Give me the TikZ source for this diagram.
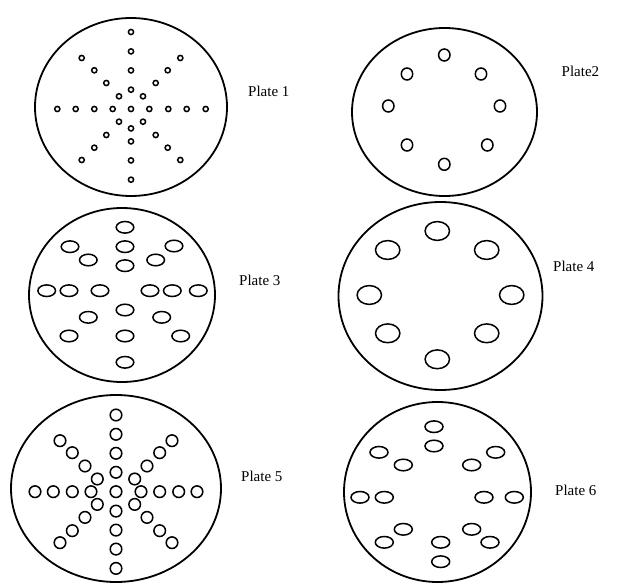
\documentclass[tikz,border=0pt]{standalone}
\usepackage{fontspec}
\setmainfont{Liberation Serif}
\begin{document}
\begin{tikzpicture}[x=1pt,y=-1pt]
\tikzstyle{plate}=[draw,line width=1.8pt]
\tikzstyle{hole}=[draw,line width=1.5pt]
\tikzstyle{platelabel}=[font=\fontsize{15}{18}\selectfont,inner sep=0pt,anchor=base west]
\useasboundingbox (0,0) rectangle (619,583);
% Plate 1: small holes in a star
\draw[plate] (131,107) ellipse [x radius=96,y radius=89];
\begin{scope}[shift={(131,109)}]
\foreach \dx in {-73.7,-55.3,-36.7,-18.3,0,18.3,37.3,55.7,74.7}
  \draw[hole] (\dx,0) circle [radius=2.6];
\foreach \dy in {-77,-57.6,-38.6,-19.3,19.4,32.4,51.4,70.7}
  \draw[hole] (0,\dy) circle [radius=2.6];
\foreach \dx/\dy in {12/12.7,24.7/26,36.7/38.7,49.3/51}{
  \draw[hole] (\dx,\dy) circle [radius=2.6];
  \draw[hole] (-\dx,\dy) circle [radius=2.6];
  \draw[hole] (\dx,-\dy) circle [radius=2.6];
  \draw[hole] (-\dx,-\dy) circle [radius=2.6];
}
\end{scope}
\node[platelabel] (P_1) at (248,97) {Plate 1};
% Plate 2: eight holes in a ring
\draw[plate] (444.5,112) ellipse [x radius=92.5,y radius=84];
\foreach \x/\y in {444.3/55,407/74,481/74,388.3/106,500/106,407/145,487.3/145,444.3/164.3}
  \draw[hole] (\x,\y) ellipse [x radius=5.7,y radius=6];
\node[platelabel] (P_2) at (561.5,77) {Plate2};
% Plate 3: oval holes
\draw[plate] (122,295) ellipse [x radius=93,y radius=87];
\foreach \x/\y in {125/227.3,125/246.7,125/265.7,70/246.7,88.3/260,174/246,155.7/260,
  46.7/290.7,69/290.7,100/290.7,150/290.7,172.3/290.7,198.3/290.7,
  125/310,88.3/317.3,161.7/317.3,69/336,125/336,180.7/336,125/362.3}
  \draw[hole] (\x,\y) ellipse [x radius=8.8,y radius=5.8];
\node[platelabel] (P_3) at (239,285) {Plate 3};
% Plate 4: eight large holes
\draw[plate] (440.5,296) ellipse [x radius=102,y radius=94];
\foreach \x/\y in {437.3/231,387.7/250,486.7/250,369.3/295,511.7/295,387.7/333.3,486.7/333.3,437.3/359.3}
  \draw[hole] (\x,\y) ellipse [x radius=12.2,y radius=9.4];
\node[platelabel] (P_4) at (553,271) {Plate 4};
% Plate 5: round holes in a star
\draw[plate] (116,488.5) ellipse [x radius=105,y radius=93.5];
\begin{scope}[shift={(116,491.7)}]
\draw[hole] (0,0) circle [radius=5.8];
\foreach \dx in {25,43.7,62.7,81}{
  \draw[hole] (\dx,0) circle [radius=5.8];
  \draw[hole] (-\dx,0) circle [radius=5.8];
}
\foreach \dy in {19.4,38.4,57.4,76.7}{
  \draw[hole] (0,\dy) circle [radius=5.8];
  \draw[hole] (0,-\dy) circle [radius=5.8];
}
\foreach \dx/\dy in {18.7/12.7,31/25.7,43.7/39,56/51}{
  \draw[hole] (\dx,\dy) circle [radius=5.8];
  \draw[hole] (-\dx,\dy) circle [radius=5.8];
  \draw[hole] (\dx,-\dy) circle [radius=5.8];
  \draw[hole] (-\dx,-\dy) circle [radius=5.8];
}
\end{scope}
\node[platelabel] (P_5) at (241,481) {Plate 5};
% Plate 6: oval holes in pairs
\draw[plate] (437.5,492) ellipse [x radius=93.5,y radius=90];
\foreach \x/\y in {434/426.7,434/446,379/452.3,403.3/465,495.7/452.3,471.7/465,
  360/497.3,384.3/497.3,484/497.3,514.3/497.3,403.3/529.3,471.7/529.3,
  384.3/542.3,490/542.3,440.7/542.3,440.7/561.7}
  \draw[hole] (\x,\y) ellipse [x radius=9,y radius=5.8];
\node[platelabel] (P_6) at (555,495) {Plate 6};
\end{tikzpicture}
\end{document}
